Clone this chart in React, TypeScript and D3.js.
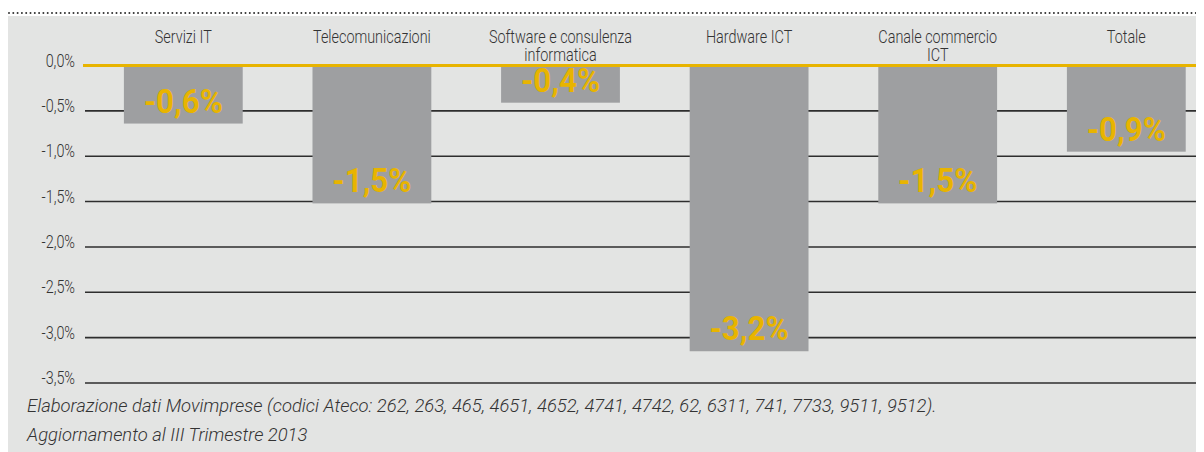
import React from "react";
import * as d3 from "d3";

const categories = [
  "Servizi IT",
  "Telecomunicazioni",
  "Software e consulenza\ninformatica",
  "Hardware ICT",
  "Canale commercio\nICT",
  "Totale",
];
const values = [-0.64, -1.52, -0.41, -3.15, -1.52, -0.95];
const valueLabels = ["-0,6%", "-1,5%", "-0,4%", "-3,2%", "-1,5%", "-0,9%"];
const tickValues = [0, -0.5, -1.0, -1.5, -2.0, -2.5, -3.0, -3.5];
const footerLines = [
  "Elaborazione dati Movimprese (codici Ateco: 262, 263, 465, 4651, 4652, 4741, 4742, 62, 6311, 741, 7733, 9511, 9512).",
  "Aggiornamento al III Trimestre 2013",
];

const W = 1204;
const H = 452;
const BG = "#e3e4e3";
const BAR = "#9e9fa1";
const YELLOW = "#e8b400";
const TEXT = "#333333";
const FONT = "Roboto, 'Noto Sans', sans-serif";
const SX = 0.8;

export default function App() {
  const x = d3
    .scaleBand<string>()
    .domain(categories)
    .range([89, 1220.6])
    .paddingInner(0.37)
    .paddingOuter(0.185);
  const y = d3.scaleLinear().domain([0, -3.5]).range([65.5, 383]);
  const fmt = (v: number) => v.toFixed(1).replace(".", ",").replace("-0,0", "0,0") + "%";

  return (
    <svg width={W - 8} height={H - 8} style={{ display: "block" }}>
      <g transform="translate(-8,-8)">
        <rect x={8} y={16} width={W - 8} height={H - 16} fill={BG} />
        <line
          x1={9}
          x2={W}
          y1={13}
          y2={13}
          stroke="#333"
          strokeWidth={2}
          strokeLinecap="round"
          strokeDasharray="0 4.3"
        />
        {/* gridlines */}
        {tickValues
          .filter((t) => t !== 0)
          .map((t) => (
            <line key={t} x1={85} x2={W} y1={y(t)} y2={y(t)} stroke="#2e2e2e" strokeWidth={1.6} />
          ))}
        {/* tick labels */}
        {tickValues.map((t) => (
          <text
            key={"l" + t}
            transform={`translate(75,${y(t) + 1}) scale(${SX},1)`}
            textAnchor="end"
            fontFamily={FONT}
            fontWeight={300}
            fontSize={18}
            fill={TEXT}
          >
            {fmt(t)}
          </text>
        ))}
        {/* bars */}
        {categories.map((c, i) => (
          <rect
            key={"b" + c}
            x={x(c)!}
            y={y(0)}
            width={x.bandwidth()}
            height={y(values[i]) - y(0)}
            fill={BAR}
          />
        ))}
        {/* zero line */}
        <line x1={83} x2={W} y1={y(0)} y2={y(0)} stroke={YELLOW} strokeWidth={3} />
        {/* value labels */}
        {categories.map((c, i) => (
          <text
            key={"v" + c}
            transform={`translate(${x(c)! + x.bandwidth() / 2},${y(values[i]) - 11}) scale(0.95,1)`}
            textAnchor="middle"
            fontFamily={FONT}
            fontWeight={700}
            fontSize={33}
            fill={YELLOW}
          >
            {valueLabels[i]}
          </text>
        ))}
        {/* category labels */}
        {categories.map((c) =>
          c.split("\n").map((line, j) => (
            <text
              key={"c" + c + j}
              transform={`translate(${x(c)! + x.bandwidth() / 2},${42.7 + j * 18.5}) scale(${SX},1)`}
              textAnchor="middle"
              fontFamily={FONT}
              fontWeight={300}
              fontSize={18}
              fill={TEXT}
            >
              {line}
            </text>
          ))
        )}
        {/* footer */}
        {footerLines.map((l, i) => (
          <text
            key={"f" + i}
            x={27}
            y={412 + i * 28.7}
            fontFamily={FONT}
            fontWeight={300}
            fontStyle="italic"
            fontSize={18.4}
            fill={TEXT}
          >
            {l}
          </text>
        ))}
      </g>
    </svg>
  );
}
